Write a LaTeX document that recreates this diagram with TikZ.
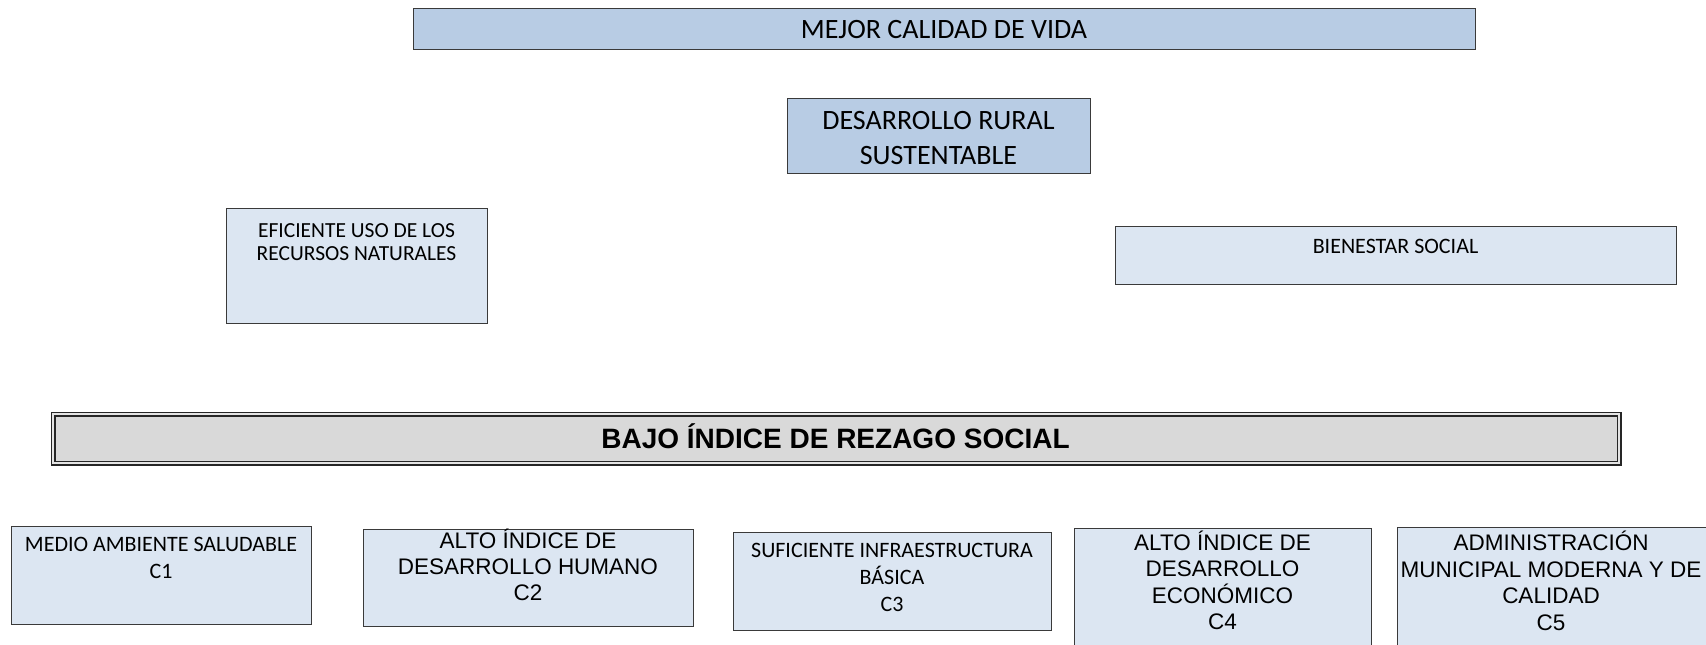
\documentclass[tikz,border=0pt]{standalone}
\usepackage{fontspec}
\setmainfont{Carlito}
\newfontfamily\arialf{Liberation Sans}
\definecolor{bluedark}{HTML}{B8CCE4}
\definecolor{bluelight}{HTML}{DCE6F2}
\definecolor{graybox}{HTML}{D9D9D9}
\definecolor{edgecol}{HTML}{3A3A3A}
\tikzset{
  box/.style={draw=edgecol, line width=1.2pt, inner sep=0pt, anchor=north west},
  darkbox/.style={box, fill=bluedark},
  lightbox/.style={box, fill=bluelight},
  txt/.style={align=center, inner sep=0pt, anchor=base},
  calA/.style={font=\fontsize{28}{34.5}\selectfont},
  calB/.style={font=\fontsize{22}{27}\selectfont},
  calC/.style={font=\fontsize{21.5}{23.5}\selectfont},
  ariB/.style={font=\arialf\fontsize{22.5}{25.8}\selectfont},
  ariD/.style={font=\arialf\fontsize{22.5}{26.5}\selectfont},
  ariT/.style={font=\arialf\bfseries\fontsize{28}{32}\selectfont},
}
\begin{document}
\begin{tikzpicture}[x=1pt,y=-1pt]
\useasboundingbox (0,0) rectangle (1706,645);
\clip (0,0) rectangle (1706,645);
\fill[white] (0,0) rectangle (1706,645);
% top boxes
\node[darkbox, minimum width=1062pt, minimum height=41pt] (mejor) at (413,8) {};
\node[txt, calA] (mejort) at (944,38) {MEJOR CALIDAD DE VIDA};
\node[darkbox, minimum width=303pt, minimum height=75pt] (drs) at (787,98) {};
\node[txt, calA] (drst) at (938.5,164) {DESARROLLO RURAL\\SUSTENTABLE};
\node[lightbox, minimum width=261pt, minimum height=115pt] (efi) at (226,208) {};
\node[txt, calC] (efit) at (356.5,260.5) {EFICIENTE USO DE LOS\\RECURSOS NATURALES};
\node[lightbox, minimum width=561pt, minimum height=58pt] (bien) at (1115,226) {};
\node[txt, calB] (bient) at (1395.5,253) {BIENESTAR SOCIAL};
% central bar
\node[box, draw=black!85, fill=graybox, double=graybox!70, double distance=2.4pt, line width=1.3pt,
      minimum width=1566pt, minimum height=49pt] (bajo) at (52.5,413.5) {};
\node[txt, ariT] (bajot) at (835.5,448) {BAJO ÍNDICE DE REZAGO SOCIAL};
% bottom boxes
\node[lightbox, minimum width=300pt, minimum height=98pt] (c1) at (11,526) {};
\node[txt, calB] (c1t) at (161,578) {MEDIO AMBIENTE SALUDABLE\\C1};
\node[lightbox, minimum width=330pt, minimum height=97pt] (c2) at (363,529) {};
\node[txt, ariB] (c2t) at (528,600) {ALTO ÍNDICE DE\\DESARROLLO HUMANO\\C2};
\node[lightbox, minimum width=318pt, minimum height=98pt] (c3) at (733,532) {};
\node[txt, calB] (c3t) at (892,611) {SUFICIENTE INFRAESTRUCTURA\\BÁSICA\\C3};
\node[lightbox, minimum width=297pt, minimum height=140pt] (c4) at (1074,528) {};
\node[txt, ariD] (c4t) at (1222.5,629.5) {ALTO ÍNDICE DE\\DESARROLLO\\ECONÓMICO\\C4};
\node[lightbox, minimum width=330pt, minimum height=140pt] (c5) at (1397,527) {};
\node[txt, ariD] (c5t) at (1551,630) {ADMINISTRACIÓN\\MUNICIPAL MODERNA Y DE\\CALIDAD\\C5};
\end{tikzpicture}
\end{document}
